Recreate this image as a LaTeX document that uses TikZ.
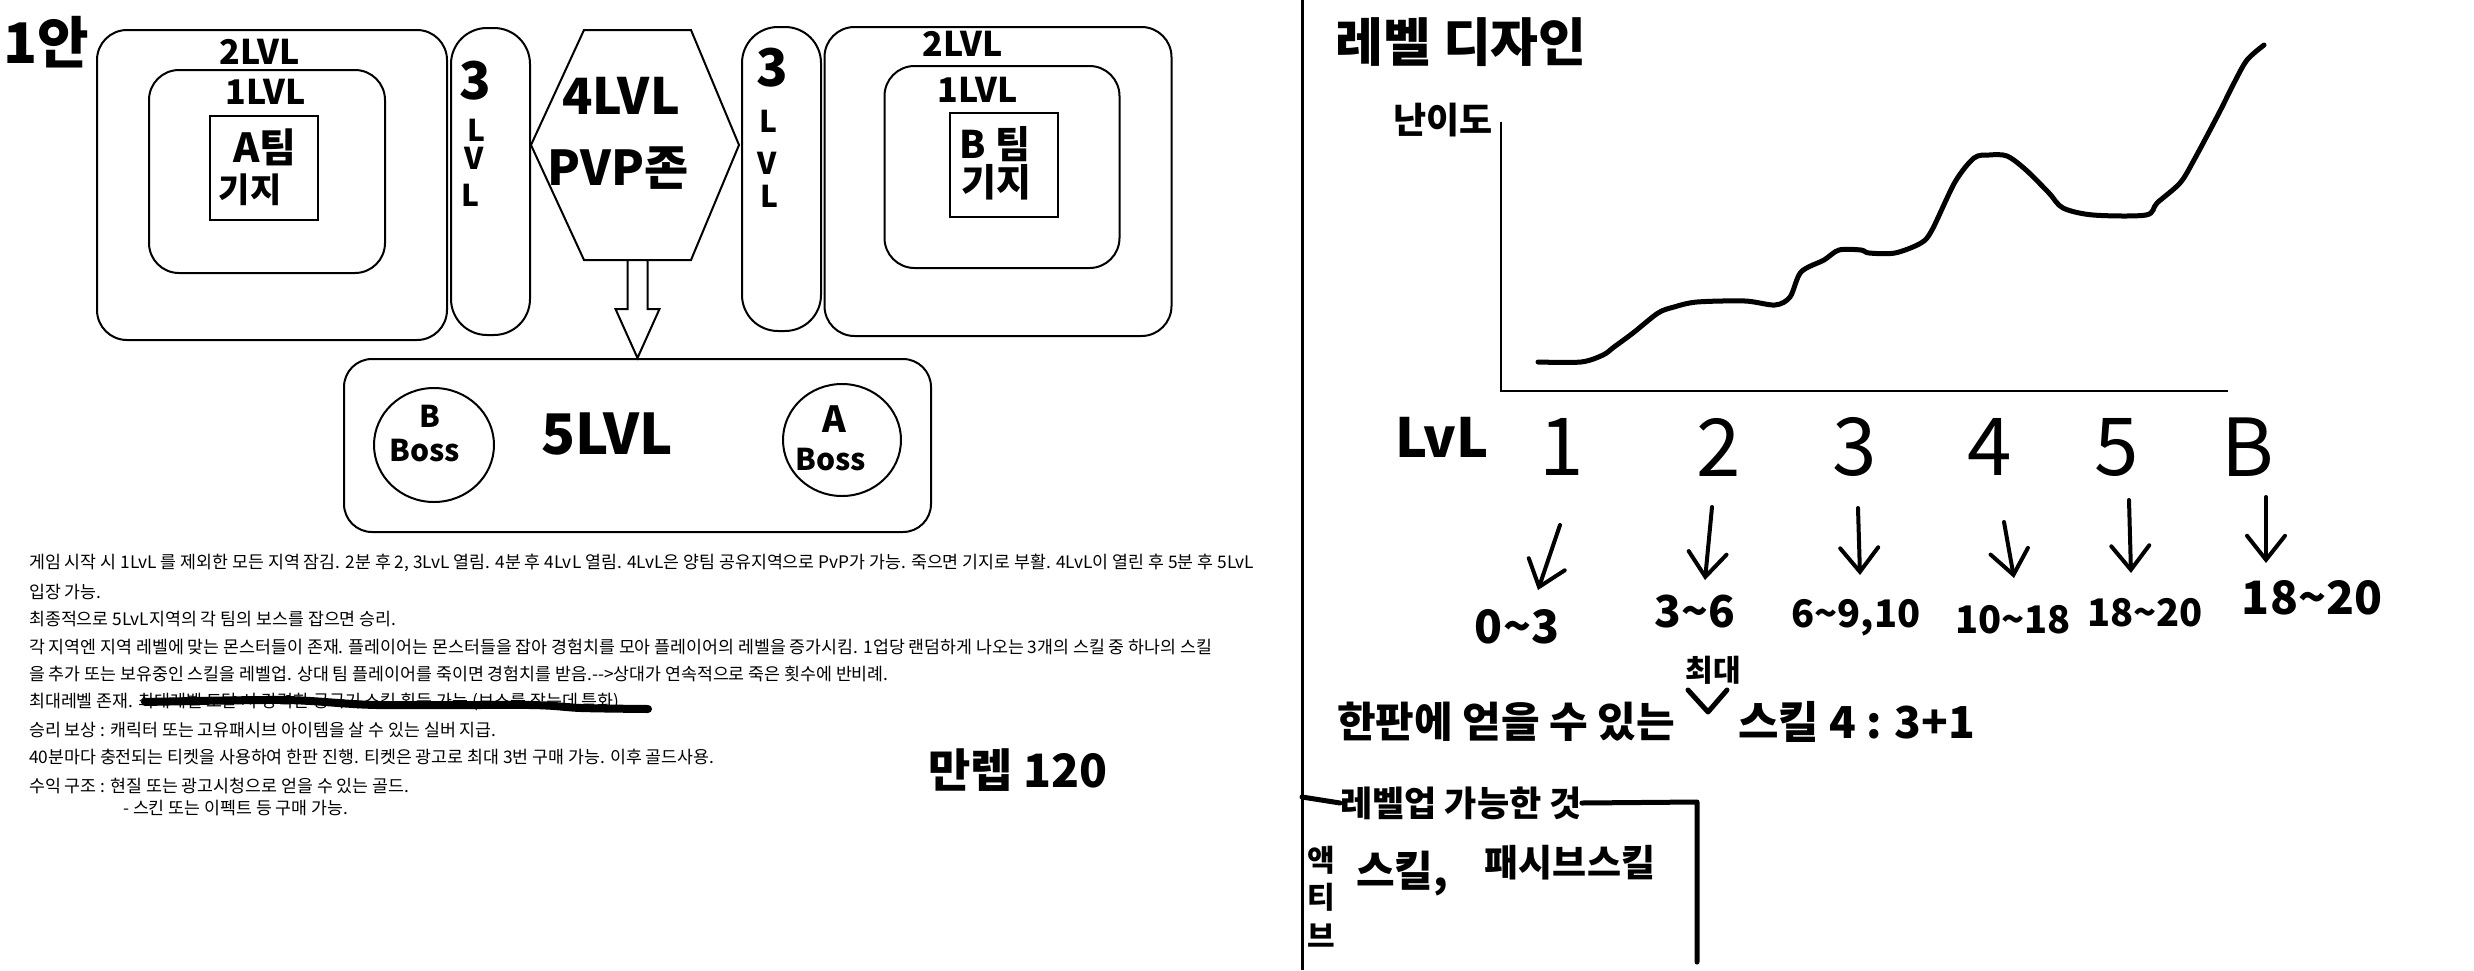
\documentclass[tikz,border=0pt]{standalone}
\usepackage{fontspec}
\setmainfont{Noto Sans CJK KR}
\usetikzlibrary{arrows.meta,calc,shapes.geometric}
\newcommand\fsz[1]{\fontsize{#1}{#1}\selectfont}
\tikzset{
  zone/.style={draw, line width=2pt, rounded corners=30pt, inner sep=0pt},
  basebox/.style={draw, line width=2pt, inner sep=0pt},
  bosscircle/.style={draw, line width=2pt, ellipse, inner sep=0pt},
  hw/.style={inner sep=0pt, text=black},
  body/.style={anchor=west, inner sep=0pt, font=\fsz{17.3}},
  harrow/.style={line width=4pt, line cap=round, -{Straight Barb[length=24pt,width=38pt,line cap=round]}},
  stroke/.style={line width=5pt, line cap=round, line join=round},
  thinline/.style={line width=2pt},
}
\begin{document}
\begin{tikzpicture}[x=1pt,y=-1pt]
\fill[white] (0,0) rectangle (2474,970);
\useasboundingbox (0,0) rectangle (2474,970);

% ---------------- left: map plan ----------------
\node[hw, font=\bfseries\fsz{56}] (plan) at (46,42) {1안};

\node[zone, minimum width=350pt, minimum height=310pt] (a2) at (272,185) {};
\node[zone, minimum width=236pt, minimum height=203pt] (a1) at (267,171.5) {};
\node[basebox, minimum width=108pt, minimum height=104pt] (abase) at (264,168) {};
\node[hw, font=\bfseries\fsz{34}] (a2t) at (260,52) {2LVL};
\node[hw, font=\bfseries\fsz{34}] (a1t) at (266,92) {1LVL};
\node[hw, font=\bfseries\fsz{40}] (abt1) at (265,147) {A팀};
\node[hw, font=\bfseries\fsz{34}] (abt2) at (250,190) {기지};

\node[zone, rounded corners=36pt, minimum width=79pt, minimum height=307pt] (a3) at (490.5,181.5) {};
\node[hw, font=\bfseries\fsz{52}] (a3n) at (475,81) {3};
\node[hw, font=\bfseries\fsz{30}] (a3l1) at (476,130) {L};
\node[hw, font=\bfseries\fsz{30}] (a3v) at (474,158) {V};
\node[hw, font=\bfseries\fsz{30}] (a3l2) at (470,195) {L};

\draw[thinline] (584,30) -- (691,30) -- (739,145) -- (691,260) -- (584,260) -- (531,145) -- cycle;
\coordinate (hexS) at (637.5,260);
\node[hw, font=\bfseries\fsz{50}] (pvp1) at (621,96) {4LVL};
\node[hw, font=\bfseries\fsz{48}] (pvp2) at (618,168) {PVP존};

\node[zone, rounded corners=36pt, minimum width=79pt, minimum height=304pt] (b3) at (781.5,179) {};
\node[hw, font=\bfseries\fsz{52}] (b3n) at (772,68) {3};
\node[hw, font=\bfseries\fsz{30}] (b3l1) at (768,121) {L};
\node[hw, font=\bfseries\fsz{30}] (b3v) at (767,163) {V};
\node[hw, font=\bfseries\fsz{30}] (b3l2) at (769,196) {L};

\node[zone, minimum width=347pt, minimum height=309pt] (b2) at (998,181.5) {};
\node[zone, minimum width=235pt, minimum height=202pt] (b1) at (1002,167) {};
\node[basebox, minimum width=108pt, minimum height=104pt] (bbase) at (1004,165) {};
\node[hw, font=\bfseries\fsz{34}] (b2t) at (963,44) {2LVL};
\node[hw, font=\bfseries\fsz{34}] (b1t) at (978,90) {1LVL};
\node[hw, font=\bfseries\fsz{38}] (bbt1) at (995,144) {B 팀};
\node[hw, font=\bfseries\fsz{38}] (bbt2) at (996,182) {기지};

\node[zone, rounded corners=28pt, minimum width=587pt, minimum height=173pt] (z5) at (637.5,445.5) {};
\node[hw, font=\bfseries\fsz{56}] (z5t) at (607,434) {5LVL};
\node[bosscircle, minimum width=120pt, minimum height=114pt] (bboss) at (434,445) {};
\node[hw, font=\bfseries\fsz{30}] (bbossl) at (430,416) {B};
\node[hw, font=\bfseries\fsz{30}] (bbosst) at (425,451) {Boss};
\node[bosscircle, minimum width=118pt, minimum height=112pt] (aboss) at (842,440) {};
\node[hw, font=\bfseries\fsz{36}] (abossl) at (834,419) {A};
\node[hw, font=\bfseries\fsz{30}] (abosst) at (831,460) {Boss};

% hollow block arrow from PvP zone to 5LvL
\draw[thinline, line join=miter] ($(hexS)+(-10,0)$) -- ++(0,49) -- ++(-12,0) -- (z5.north)
  -- ($(hexS)+(22,49)$) -- ++(-12,0) -- ($(hexS)+(10,0)$);

% ---------------- description text ----------------
\node[body] (t1) at (29,563) {게임 시작 시 1LvL 를 제외한 모든 지역 잠김. 2분 후 2, 3LvL 열림. 4분 후 4LvL 열림. 4LvL은 양팀 공유지역으로 PvP가 가능. 죽으면 기지로 부활. 4LvL이 열린 후 5분 후 5LvL};
\node[body] (t2) at (29,592) {입장 가능.};
\node[body] (t3) at (29,619) {최종적으로 5LvL지역의 각 팀의 보스를 잡으면 승리.};
\node[body] (t4) at (29,647) {각 지역엔 지역 레벨에 맞는 몬스터들이 존재. 플레이어는 몬스터들을 잡아 경험치를 모아 플레이어의 레벨을 증가시킴. 1업당 랜덤하게 나오는 3개의 스킬 중 하나의 스킬};
\node[body] (t5) at (29,674) {을 추가 또는 보유중인 스킬을 레벨업. 상대 팀 플레이어를 죽이면 경험치를 받음.-{}-{}>상대가 연속적으로 죽은 횟수에 반비례.};
\node[body] (t6) at (29,702) {최대레벨 존재. 최대레벨 도달 시 강력한 궁극기 스킬 획득 가능.(보스를 잡는데 특화)};
\node[body] (t7) at (29,730) {승리 보상 : 캐릭터 또는 고유패시브 아이템을 살 수 있는 실버 지급.};
\node[body] (t8) at (29,757) {40분마다 충전되는 티켓을 사용하여 한판 진행. 티켓은 광고로 최대 3번 구매 가능. 이후 골드사용.};
\node[body] (t9) at (29,786) {수익 구조 : 현질 또는 광고시청으로 얻을 수 있는 골드.};
\node[body] (t10) at (123,808) {- 스킨 또는 이펙트 등 구매 가능.};
\draw[line width=8pt, line cap=round, line join=round] plot[smooth] coordinates {(145,702) (285,700) (377,705) (530,705) (581,708) (648,709)};

\node[hw, anchor=west, font=\bfseries\fsz{46}] (maxlv) at (928,770) {만렙 120};

% ---------------- right: level design ----------------
\coordinate (divT) at (1302,0);
\coordinate (divB) at (1302,970);
\draw[line width=3pt] (divT) -- (divB);

\node[hw, font=\bfseries\fsz{52}] (title) at (1461,42) {레벨 디자인};
\node[hw, font=\bfseries\fsz{36}] (diff) at (1443,120) {난이도};

\coordinate (yTop) at (1501,122);
\coordinate (orig) at (1501,391);
\coordinate (xEnd) at (2228,391);
\draw[thinline] (yTop) -- (orig) -- (xEnd);

\draw[stroke] plot[smooth, tension=0.5] coordinates {
 (1538,362) (1581,362) (1603,355) (1614,347) (1633,333) (1658,313) (1674,307)
 (1697,302) (1745,301) (1775,305) (1790,297) (1801,272) (1824,260) (1839,250)
 (1861,250) (1869,253) (1895,253) (1921,243) (1932,230) (1955,182) (1974,158)
 (1989,155) (2007,156) (2026,170) (2049,193) (2063,208) (2093,215) (2146,215)
 (2157,203) (2180,183) (2194,160) (2219,113) (2234,83) (2247,60) (2264,45)};

\node[hw, font=\bfseries\fsz{54}] (lvl) at (1442,437) {LvL};
\node[hw, font=\fsz{80}] (l1) at (1562,447) {1};
\node[hw, font=\fsz{80}] (l2) at (1719,447) {2};
\node[hw, font=\fsz{80}] (l3) at (1855,447) {3};
\node[hw, font=\fsz{80}] (l4) at (1990,447) {4};
\node[hw, font=\fsz{80}] (l5) at (2117,447) {5};
\node[hw, font=\fsz{80}] (lb) at (2248,447) {B};

\coordinate (a1s) at (1560,525); \coordinate (a1e) at (1538,590);
\coordinate (a2s) at (1712,507); \coordinate (a2e) at (1705,580);
\coordinate (a3s) at (1858,508); \coordinate (a3e) at (1860,575);
\coordinate (a4s) at (2004,522); \coordinate (a4e) at (2014,578);
\coordinate (a5s) at (2129,500); \coordinate (a5e) at (2131,573);
\coordinate (a6s) at (2266,497); \coordinate (a6e) at (2266,563);
\draw[harrow] (a1s) -- (a1e);
\draw[harrow] (a2s) -- (a2e);
\draw[harrow] (a3s) -- (a3e);
\draw[harrow] (a4s) -- (a4e);
\draw[harrow] (a5s) -- (a5e);
\draw[harrow] (a6s) -- (a6e);

\node[hw, font=\bfseries\fsz{46}] (r1) at (1517,627) {0\textasciitilde3};
\node[hw, font=\bfseries\fsz{44}] (r2) at (1695,612) {3\textasciitilde6};
\node[hw, font=\bfseries\fsz{38}] (r3) at (1856,618) {6\textasciitilde9,10};
\node[hw, font=\bfseries\fsz{38}] (r4) at (2013,620) {10\textasciitilde18};
\node[hw, font=\bfseries\fsz{38}] (r5) at (2145,613) {18\textasciitilde20};
\node[hw, font=\bfseries\fsz{46}] (r6) at (2312,598) {18\textasciitilde20};

\node[hw, anchor=west, font=\bfseries\fsz{42}] (sk1) at (1337,722) {한판에 얻을 수 있는};
\node[hw, anchor=west, font=\bfseries\fsz{44}] (sk2) at (1738,722) {스킬 4 : 3+1};
\node[hw, font=\bfseries\fsz{30}] (skmax) at (1713,670) {최대};
\draw[stroke] (1688,690) -- (1708,712) -- (1727,690);

\node[hw, font=\bfseries\fsz{35}] (lvup) at (1461,803) {레벨업 가능한 것};
\coordinate (bxL) at (1302,797);
\coordinate (bxR) at (1697,802);
\coordinate (bxB) at (1697,962);
\draw[stroke] (bxL) -- (lvup.west);
\draw[stroke] (lvup.east) -- (bxR) -- (bxB);

\node[hw, font=\bfseries\fsz{30}] (ac1) at (1321,860) {액};
\node[hw, font=\bfseries\fsz{30}] (ac2) at (1321,897) {티};
\node[hw, font=\bfseries\fsz{30}] (ac3) at (1321,936) {브};
\node[hw, font=\bfseries\fsz{42}] (sk3) at (1402,874) {스킬,};
\node[hw, font=\bfseries\fsz{37}] (sk4) at (1570,863) {패시브스킬};
\end{tikzpicture}
\end{document}
